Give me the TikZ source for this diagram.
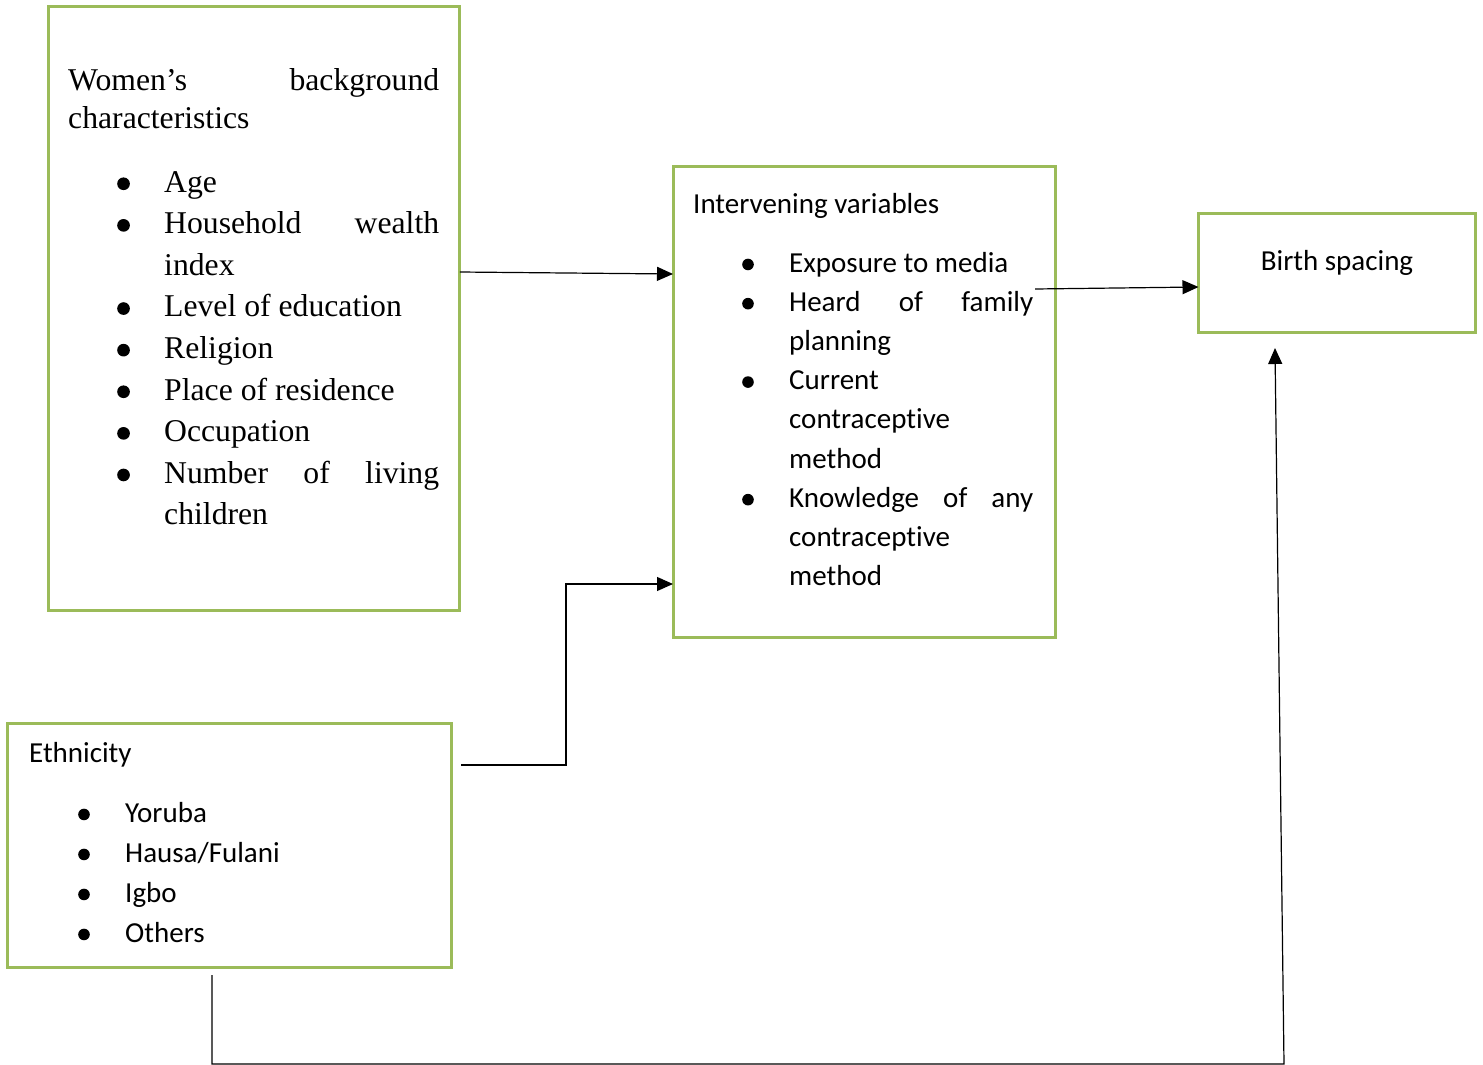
\documentclass[tikz,border=0pt]{standalone}
\usepackage{fontspec}
\setmainfont{Liberation Serif}
\newfontfamily\calibri[Ligatures=NoCommon]{Carlito}
\usepackage{enumitem}
\usetikzlibrary{arrows.meta,calc}
\definecolor{boxgreen}{RGB}{155,187,89}
\newcommand{\bul}{\tikz[baseline=0pt]\fill (0,0.26em) circle (0.2em);}
\setlist[itemize]{leftmargin=96pt, labelindent=49pt, labelsep=*, align=left, label=\bul,
  itemsep=0pt, parsep=0pt, topsep=0pt, partopsep=0pt}
\tikzset{
  box/.style={draw=boxgreen, line width=3pt, inner sep=0pt, outer sep=0pt},
  serif txt/.style={inner sep=0pt, anchor=base west, align=justify, font=\fontsize{31.7pt}{41.6pt}\selectfont},
  sans txt/.style={inner sep=0pt, anchor=base west, align=justify, font=\calibri\fontsize{29pt}{39.2pt}\selectfont},
  arr/.style={-{Triangle[length=16pt,width=14pt]}, line width=1.2pt},
}
\begin{document}
\begin{tikzpicture}[x=1pt,y=-1pt]
\useasboundingbox (0,0) rectangle (1483,1065);
% frames
\node[box, minimum width=411.5pt, minimum height=603pt] (women) at (254,308.5) {};
\node[box, minimum width=382pt, minimum height=470.5pt] (interv) at (864,401.75) {};
\node[box, minimum width=276.5pt, minimum height=119pt] (birth) at (1336.75,273) {};
\node[box, minimum width=444pt, minimum height=244pt] (ethn) at (229.5,845.5) {};
% texts
\node[serif txt, text width=371pt] (wtext) at (68,90) {Women's\hfill background\\[-3.6pt]characteristics\par\vspace{22.4pt}
\begin{itemize}
\item Age
\item Household\hfill wealth\newline index
\item Level of education
\item Religion
\item Place of residence
\item Occupation
\item Number\hfill of\hfill living\newline children
\end{itemize}};
\node[sans txt, text width=340pt] (itext) at (693,213) {Intervening variables\par\vspace{19.8pt}
\begin{itemize}
\item Exposure to media
\item Heard\hfill of\hfill family\newline planning
\item Current\newline contraceptive\newline method
\item Knowledge\hfill of\hfill any\newline contraceptive\newline method
\end{itemize}};
\node[sans txt, anchor=base] (btext) at (1337,270) {Birth spacing};
\node[sans txt, text width=400pt, font=\calibri\fontsize{29pt}{40pt}\selectfont] (etext) at (29,762) {Ethnicity\par\vspace{20pt}
\begin{itemize}
\item Yoruba
\item Hausa/Fulani
\item Igbo
\item Others
\end{itemize}};
% connectors
\draw[arr] ($(women.north east)+(0,265)$) -- ($(interv.north west)+(0,107.5)$);
\draw[arr] ($(interv.north east)+(-20,122.5)$) -- ($(birth.north west)+(0,73.5)$);
\draw[arr] ($(ethn.north east)+(9.5,41.5)$) -- ++(105,0) |- ($(interv.north west)+(0,417.5)$);
\draw[arr] ($(ethn.south)+(-17.5,7.5)$) -- ++(0,89) -- ++(1072,0) -- ($(birth.south)+(-61.75,15.5)$);
\end{tikzpicture}
\end{document}
